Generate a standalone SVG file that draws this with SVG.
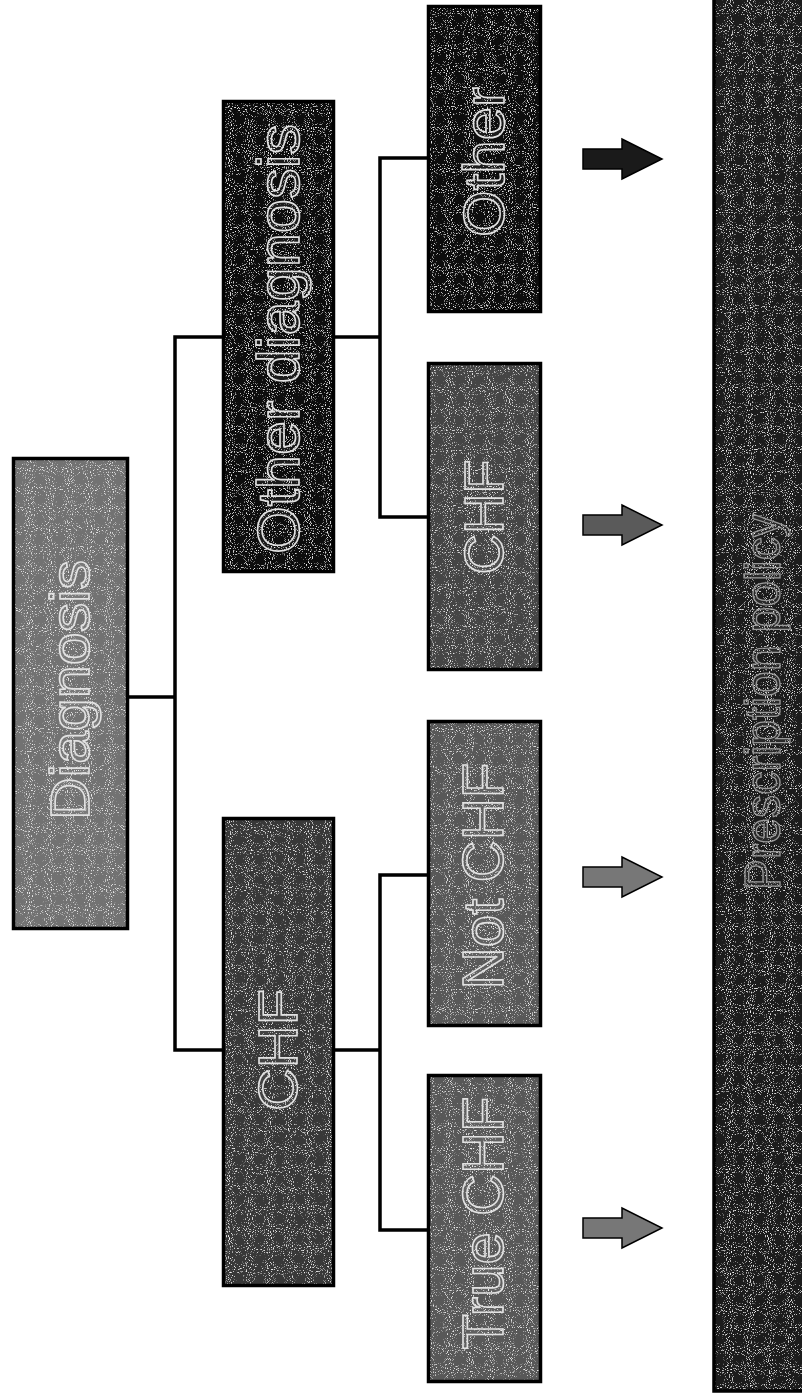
<svg xmlns="http://www.w3.org/2000/svg" width="802" height="1396" viewBox="0 0 802 1396">
<style>
.box{filter:url(#grain)}
.bd{fill:none;stroke:#000;stroke-width:3.5}
.lbl{font-family:"Liberation Sans",Arial,sans-serif;text-anchor:middle;fill:rgba(255,255,255,0.06);stroke:#e2e2e2;stroke-width:1.6}
.con{fill:none;stroke:#000;stroke-width:3.5;stroke-linecap:square}
.arr{stroke:#000;stroke-width:1.5}
</style>
<defs>
<filter id="grain" x="0" y="0" width="100%" height="100%">
<feTurbulence type="fractalNoise" baseFrequency="0.95" numOctaves="1" seed="4" result="n"/>
<feColorMatrix in="n" type="matrix" values="0 0 0 0 0.85 0 0 0 0 0.85 0 0 0 0 0.85 6 0 0 0 -3.5" result="dots"/>
<feComposite in="dots" in2="SourceGraphic" operator="in" result="d2"/>
<feMerge><feMergeNode in="SourceGraphic"/><feMergeNode in="d2"/></feMerge>
</filter>
</defs>
<rect width="802" height="1396" fill="#fff"/>
<g id="connectors">
<path class="con" d="M129,697 H175 M175,337 V1050 M175,337 H222 M175,1050 H222"/>
<path class="con" d="M335,337 H380 M380,158 V517 M380,158 H427 M380,517 H427"/>
<path class="con" d="M335,1050 H380 M380,875 V1230 M380,875 H427 M380,1230 H427"/>
</g>
<g id="node-diagnosis">
<rect class="box" x="13.5" y="458.5" width="114" height="470" fill="#727272"/>
<rect class="bd" x="13.5" y="458.5" width="114" height="470"/>
<text class="lbl" font-size="56" textLength="260" lengthAdjust="spacingAndGlyphs" transform="translate(69,690) rotate(-90)" y="20">Diagnosis</text>
</g>
<g id="node-other-diagnosis">
<rect class="box" x="223.5" y="101.5" width="110" height="470" fill="#101010"/>
<rect class="bd" x="223.5" y="101.5" width="110" height="470"/>
<text class="lbl" font-size="60" textLength="430" lengthAdjust="spacingAndGlyphs" transform="translate(278,339) rotate(-90)" y="21">Other diagnosis</text>
</g>
<g id="node-chf">
<rect class="box" x="223.5" y="818.5" width="110" height="467" fill="#383838"/>
<rect class="bd" x="223.5" y="818.5" width="110" height="467"/>
<text class="lbl" font-size="56" textLength="122" lengthAdjust="spacingAndGlyphs" transform="translate(277,1050) rotate(-90)" y="20">CHF</text>
</g>
<g id="node-other">
<rect class="box" x="428.5" y="6.5" width="112" height="305" fill="#101010"/>
<rect class="bd" x="428.5" y="6.5" width="112" height="305"/>
<text class="lbl" font-size="58" textLength="150" lengthAdjust="spacingAndGlyphs" transform="translate(483,162) rotate(-90)" y="21">Other</text>
</g>
<g id="node-chf-leaf">
<rect class="box" x="428.5" y="363.5" width="112" height="306" fill="#444444"/>
<rect class="bd" x="428.5" y="363.5" width="112" height="306"/>
<text class="lbl" font-size="56" textLength="115" lengthAdjust="spacingAndGlyphs" transform="translate(483,517) rotate(-90)" y="20">CHF</text>
</g>
<g id="node-not-chf">
<rect class="box" x="428.5" y="721.5" width="112" height="304" fill="#585858"/>
<rect class="bd" x="428.5" y="721.5" width="112" height="304"/>
<text class="lbl" font-size="58" textLength="227" lengthAdjust="spacingAndGlyphs" transform="translate(482,876) rotate(-90)" y="21">Not CHF</text>
</g>
<g id="node-true-chf">
<rect class="box" x="428.5" y="1075.5" width="112" height="306" fill="#585858"/>
<rect class="bd" x="428.5" y="1075.5" width="112" height="306"/>
<text class="lbl" font-size="58" textLength="253" lengthAdjust="spacingAndGlyphs" transform="translate(482,1223) rotate(-90)" y="21">True CHF</text>
</g>
<g id="arrows">
<path class="arr" fill="#1a1a1a" d="M583,149 H622 V139 L662,159 L622,179 V169 H583 Z"/>
<path class="arr" fill="#5a5a5a" d="M583,515 H622 V505 L662,525 L622,545 V535 H583 Z"/>
<path class="arr" fill="#777" d="M583,867 H622 V857 L662,877 L622,897 V887 H583 Z"/>
<path class="arr" fill="#777" d="M583,1218 H622 V1208 L662,1228 L622,1248 V1238 H583 Z"/>
</g>
<g id="node-policy">
<rect class="box" x="714" y="-2" width="92" height="1393" fill="#1c1c1c"/>
<rect class="bd" x="714" y="-2" width="92" height="1393"/>
<text class="lbl" font-size="50" textLength="376" lengthAdjust="spacingAndGlyphs" transform="translate(762,702) rotate(-90)" y="18" style="stroke:#9a9a9a;stroke-width:1.3">Prescription policy</text>
</g>
</svg>
